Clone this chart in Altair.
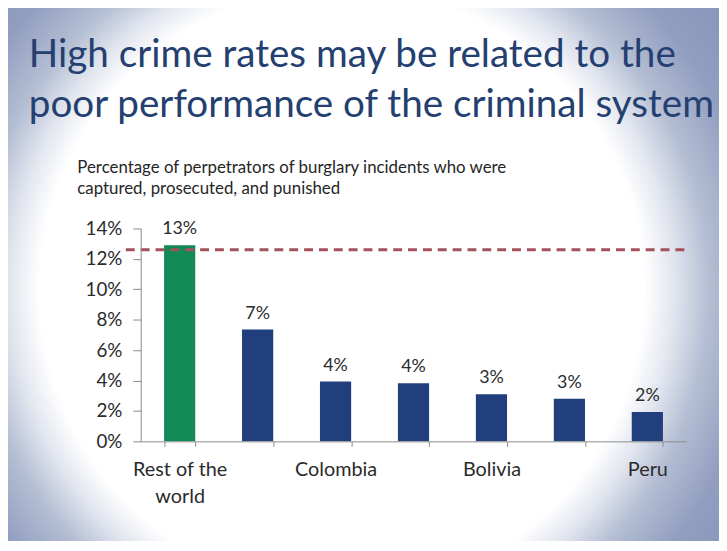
import altair as alt
import pandas as pd

# ---- data ----
categories = ["Rest of the world", "Unlabeled 2", "Colombia", "Unlabeled 4",
              "Bolivia", "Unlabeled 6", "Peru"]
values = [12.9, 7.35, 3.93, 3.82, 3.1, 2.8, 1.93]
groups = ["world", "country", "country", "country", "country", "country", "country"]
shown_labels = ["Rest of the world", "Colombia", "Bolivia", "Peru"]
benchmark = [12.6]
y_ticks = [0, 2, 4, 6, 8, 10, 12, 14]

title_lines = ["High crime rates may be related to the",
               "poor performance of the criminal system"]
subtitle_lines = ["Percentage of perpetrators of burglary incidents who were",
                  "captured, prosecuted, and punished"]

FONT = "Lato"
W, H = 551, 215

df = pd.DataFrame({"category": categories, "value": values, "group": groups})
df_rule = pd.DataFrame({"value": benchmark})
df_one = pd.DataFrame({"k": [0]})

shown_expr = "[" + ",".join("'" + s + "'" for s in shown_labels) + "]"
label_expr = (
    "datum.value == 'Rest of the world' ? ['Rest of the', 'world'] : "
    f"(indexof({shown_expr}, datum.value) >= 0 ? datum.value : '')"
)

x_scale = alt.Scale(paddingInner=0.6, paddingOuter=0.3)
x_axis = alt.Axis(title=None, labelExpr=label_expr, labelAngle=0, labelOverlap=False,
                  tickBand="extent", tickSize=5, tickColor="#8a8a8a",
                  domainColor="#8a8a8a", labelFont=FONT, labelFontSize=20,
                  labelColor="#2b2b2b", labelPadding=29, labelLineHeight=28,
                  labelBaseline="alphabetic", zindex=1)
y_scale = alt.Scale(domain=[0, 14], nice=False, zero=True)
y_axis = alt.Axis(title=None, values=y_ticks, labelExpr="datum.value + '%'",
                  grid=False, tickSize=8, tickColor="#8a8a8a", domainColor="#8a8a8a",
                  labelFont=FONT, labelFontSize=19, labelColor="#2b2b2b",
                  labelPadding=11, labelOverlap=False, labelBound=False,
                  labelFlush=False, zindex=1)

x_enc = alt.X("category:N", sort=categories, scale=x_scale, axis=x_axis)
y_enc = alt.Y("value:Q", scale=y_scale, axis=y_axis)

gradient = {
    "gradient": "radial",
    "x1": 0.47, "y1": 0.5, "r1": 0,
    "x2": 0.47, "y2": 0.5, "r2": 0.62,
    "stops": [
        {"offset": 0.0, "color": "#ffffff"},
        {"offset": 0.60, "color": "#ffffff"},
        {"offset": 0.66, "color": "#e1e5ee"},
        {"offset": 0.73, "color": "#b3bdd3"},
        {"offset": 0.83, "color": "#919ebf"},
        {"offset": 1.0, "color": "#8292b8"},
    ],
}

bg = alt.Chart(df_one).mark_rect(fill=gradient).encode(
    x=alt.value(-182), x2=alt.value(638), y=alt.value(-288), y2=alt.value(412)
)

bars = alt.Chart(df).mark_bar().encode(
    x=x_enc, y=y_enc,
    color=alt.Color("group:N", scale=alt.Scale(domain=["world", "country"],
                                               range=["#128a57", "#203f7c"]),
                    legend=None),
)

labels = alt.Chart(df).transform_calculate(
    lab="round(datum.value) + '%'"
).mark_text(font=FONT, fontSize=18, color="#2b2b2b", baseline="alphabetic", dy=-11).encode(
    x=x_enc, y=y_enc, text="lab:N",
)

rule = alt.Chart(df_rule).mark_rule(color="#a3525c", strokeWidth=3, strokeDash=[9, 6]).encode(
    y=y_enc, x=alt.value(-15), x2=alt.value(W)
)

title = alt.Chart(df_one).mark_text(
    text=title_lines, font=FONT, fontSize=39, lineHeight=50, color="#243f70",
    align="left", baseline="alphabetic"
).encode(x=alt.value(-113), y=alt.value(-163))

subtitle = alt.Chart(df_one).mark_text(
    text=subtitle_lines, font=FONT, fontSize=17, lineHeight=21, color="#262626",
    align="left", baseline="alphabetic"
).encode(x=alt.value(-64), y=alt.value(-56))

chart = alt.layer(bg, bars, labels, rule, title, subtitle).properties(
    width=W, height=H,
    autosize=alt.AutoSizeParams(type="none"),
    padding={"left": 134, "top": 220, "right": 33, "bottom": 98},
    background="white",
).configure_view(stroke=None)

chart.save("out.html", embed_options={"renderer": "svg", "actions": False})
